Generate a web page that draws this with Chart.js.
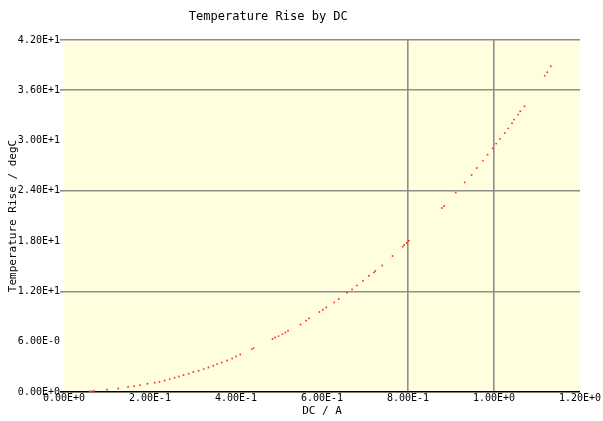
<!DOCTYPE html>
<html>
<head>
<meta charset="utf-8">
<script src="https://cdn.jsdelivr.net/npm/chart.js@4"></script>
<style>
html,body{margin:0;padding:0;background:#fff;}
#wrap{width:603px;height:421px;}
</style>
</head>
<body>
<div id="wrap"><canvas id="c" width="603" height="421"></canvas></div>
<script>
const chartTitle = "Temperature Rise by DC";
const xAxisTitle = "DC / A";
const yAxisTitle = "Temperature Rise / degC";
const xTickValues = [0, 0.2, 0.4, 0.6, 0.8, 1.0, 1.2];
const xTickLabels = ["0.00E+0","2.00E-1","4.00E-1","6.00E-1","8.00E-1","1.00E+0","1.20E+0"];
const yTickValues = [0, 6, 12, 18, 24, 30, 36, 42];
const yTickLabels = ["0.00E+0","6.00E-0","1.20E+1","1.80E+1","2.40E+1","3.00E+1","3.60E+1","4.20E+1"];
const xGridShown = [0.8, 1.0];
const yGridShown = [12, 24, 36, 42];

const currentA = [0.060,0.065,0.070,0.100,0.126,0.149,0.163,0.177,0.194,0.211,0.222,0.234,0.246,0.257,0.267,0.278,0.290,0.301,0.313,0.325,0.336,0.347,0.356,0.367,0.379,0.391,0.400,0.410,0.437,0.441,0.485,0.491,0.499,0.508,0.515,0.521,0.550,0.563,0.570,0.594,0.602,0.610,0.628,0.639,0.658,0.670,0.681,0.695,0.709,0.721,0.724,0.740,0.764,0.788,0.791,0.797,0.802,0.879,0.884,0.911,0.932,0.948,0.960,0.974,0.985,0.997,1.005,1.014,1.025,1.033,1.042,1.047,1.056,1.061,1.071,1.118,1.124,1.132];
const tempRise = [0.08,0.10,0.12,0.30,0.42,0.59,0.70,0.82,0.98,1.10,1.22,1.37,1.54,1.70,1.85,2.02,2.17,2.38,2.53,2.73,2.93,3.13,3.33,3.52,3.76,4.00,4.24,4.48,5.12,5.24,6.32,6.51,6.67,6.91,7.10,7.31,8.06,8.50,8.78,9.54,9.81,10.09,10.69,11.09,11.84,12.24,12.72,13.28,13.87,14.27,14.44,15.10,16.23,17.34,17.54,17.78,18.05,21.96,22.20,23.79,25.01,25.90,26.73,27.61,28.32,29.07,29.64,30.20,30.91,31.46,32.06,32.50,33.10,33.49,34.09,37.72,38.15,38.87];

const points = currentA.map((x, i) => ({x: x, y: tempRise[i]}));
const FONT = "'DejaVu Sans Mono', 'Liberation Mono', monospace";

const bgPlugin = {
  id: 'bg',
  beforeDraw(chart) {
    const {ctx, chartArea: a} = chart;
    ctx.save();
    ctx.fillStyle = '#ffffff';
    ctx.fillRect(0, 0, chart.width, chart.height);
    ctx.fillStyle = '#FFFFE0';
    ctx.fillRect(a.left, a.top, a.right - a.left, a.bottom - a.top);
    ctx.restore();
  }
};
const titlePlugin = {
  id: 'ttl',
  afterDraw(chart) {
    const ctx = chart.ctx;
    ctx.save();
    ctx.font = "12px " + FONT;
    ctx.fillStyle = '#000';
    ctx.textAlign = 'center';
    ctx.textBaseline = 'middle';
    ctx.fillText(chartTitle, chart.width * 0.445, 17);
    ctx.restore();
  }
};

new Chart(document.getElementById('c'), {
  type: 'scatter',
  data: {
    datasets: [{
      data: points,
      backgroundColor: '#ff3030',
      borderWidth: 0,
      pointRadius: 0.95,
      pointHoverRadius: 0.95
    }]
  },
  options: {
    responsive: false,
    animation: false,
    devicePixelRatio: 1,
    layout: {padding: {top: 40, right: 23, left: 0, bottom: 0}},
    plugins: {legend: {display: false}, tooltip: {enabled: false}, title: {display: false}},
    scales: {
      x: {
        type: 'linear', min: 0, max: 1.2,
        afterBuildTicks(s) { s.ticks = xTickValues.map(v => ({value: v})); },
        afterFit(s) { s.height = 29; },
        border: {display: false},
        grid: {
          drawTicks: false,
          lineWidth: 1.6,
          color: c => xGridShown.some(v => Math.abs(v - c.tick.value) < 1e-6) ? '#8e8e8e' : 'rgba(0,0,0,0)'
        },
        ticks: {
          padding: 0,
          color: '#000',
          font: {family: FONT, size: 10},
          maxRotation: 0,
          autoSkip: false,
          callback: (v) => { const i = xTickValues.findIndex(t => Math.abs(t - v) < 1e-6); return i >= 0 ? xTickLabels[i] : ''; }
        },
        title: {display: true, text: xAxisTitle, color: '#000', font: {family: FONT, size: 11}, padding: {top: 0, bottom: 3}}
      },
      y: {
        type: 'linear', min: 0, max: 42,
        afterBuildTicks(s) { s.ticks = yTickValues.map(v => ({value: v})); },
        afterFit(s) { s.width = 64; },
        border: {display: false},
        grid: {
          drawTicks: true,
          tickLength: 4,
          lineWidth: 1.6,
          color: c => c.tick.value === 0 ? '#000000' : (yGridShown.includes(c.tick.value) ? '#8e8e8e' : 'rgba(0,0,0,0)')
        },
        ticks: {
          padding: 0,
          color: '#000',
          font: {family: FONT, size: 10},
          autoSkip: false,
          callback: (v) => { const i = yTickValues.indexOf(v); return i >= 0 ? yTickLabels[i] : ''; }
        },
        title: {display: true, text: yAxisTitle, color: '#000', font: {family: FONT, size: 11}, padding: {top: 7, bottom: 0}}
      }
    }
  },
  plugins: [bgPlugin, titlePlugin]
});
</script>
</body>
</html>
